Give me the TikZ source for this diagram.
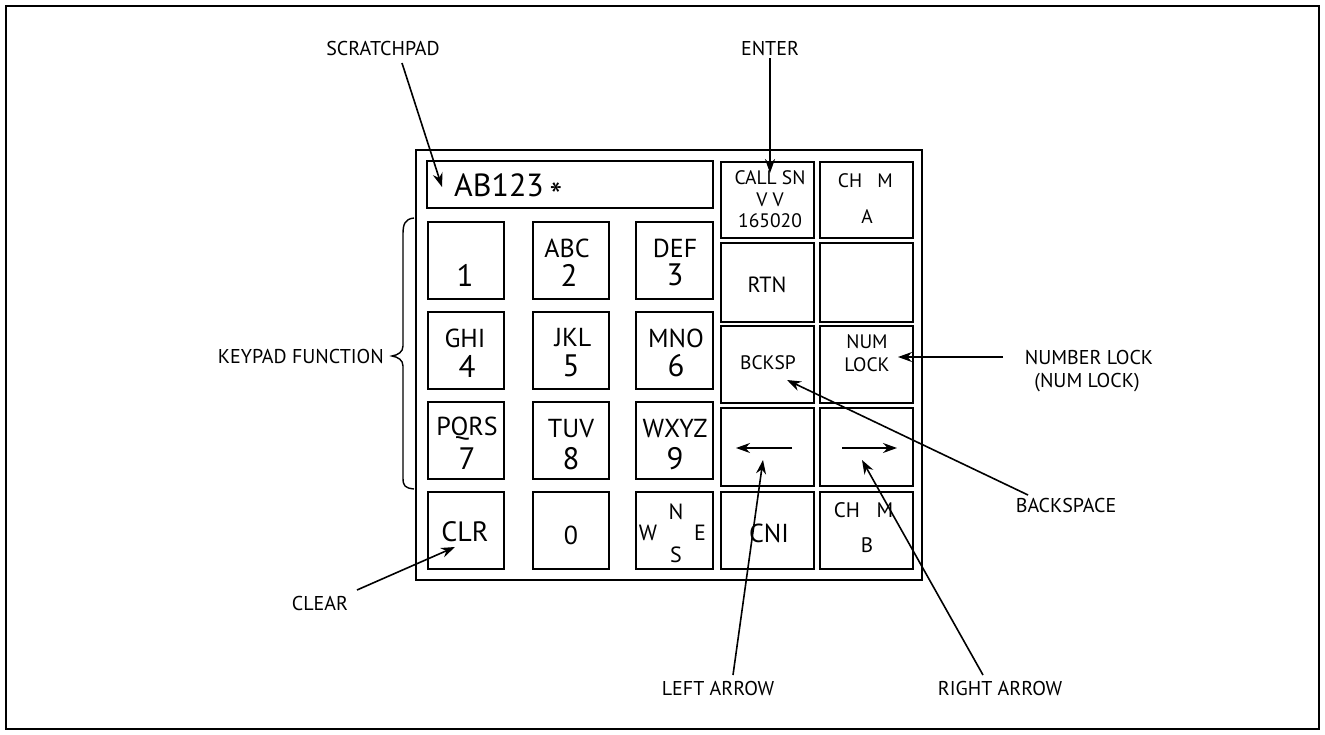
\documentclass[tikz,border=0pt]{standalone}
\usepackage{fontspec}
\setmainfont{PT Sans}
\usetikzlibrary{arrows.meta}
\tikzset{
  keybox/.style={draw, line width=1.6pt, inner sep=0pt},
  lbl/.style={font=\fontsize{20}{22}\selectfont, inner sep=2pt},
  arr/.style={line width=1.6pt, -{Stealth[length=14pt,width=10pt]}},
  ltr/.style={font=\fontsize{26}{28}\selectfont, inner sep=0pt},
  dig/.style={font=\fontsize{31}{32}\selectfont, inner sep=0pt},
  sml/.style={font=\fontsize{19.5}{20}\selectfont, inner sep=0pt},
}
\newcommand{\kbox}[5]{\node[keybox, minimum width=#3pt, minimum height=#4pt] (#5) at (#1,#2) {};}
\begin{document}
\begin{tikzpicture}[x=1pt,y=-1pt]
\useasboundingbox (0,0) rectangle (1325,735);
% outer frame
\draw[line width=1.6pt] (6,6) rectangle (1319,729);
% keypad body
\node[keybox, minimum width=506pt, minimum height=430pt] (body) at (669,365) {};
% scratchpad
\node[keybox, minimum width=286pt, minimum height=47pt] (pad) at (570,184.5) {};
\node[font=\fontsize{32}{34}\selectfont, inner sep=0pt, anchor=west] (padtxt) at (454,185) {AB123};
\node[font=\fontsize{36}{36}\selectfont, inner sep=0pt] (star) at (556,196) {*};
% numeric keys
\kbox{466}{260.5}{76}{77}{k1}
\kbox{571}{260.5}{76}{77}{k2}
\kbox{674.5}{260.5}{77}{77}{k3}
\kbox{466}{350.5}{76}{77}{k4}
\kbox{571}{350.5}{76}{77}{k5}
\kbox{674.5}{350.5}{77}{77}{k6}
\kbox{466}{440.5}{76}{77}{k7}
\kbox{571}{440.5}{76}{77}{k8}
\kbox{674.5}{440.5}{77}{77}{k9}
\kbox{466}{530.5}{76}{77}{kclr}
\kbox{571}{530.5}{76}{77}{k0}
\kbox{674.5}{530.5}{77}{77}{knav}
% right keys
\kbox{767.5}{200}{93}{76}{kcall}
\kbox{866.5}{200}{93}{76}{kcha}
\kbox{767.5}{282.5}{93}{79}{krtn}
\kbox{866.5}{282.5}{93}{79}{kblank}
\kbox{767.5}{364.5}{93}{77}{kbck}
\kbox{866.5}{364.5}{93}{77}{knum}
\kbox{767.5}{447}{93}{78}{kleft}
\kbox{866.5}{447}{93}{78}{kright}
\kbox{767.5}{530.5}{93}{77}{kcni}
\kbox{866.5}{530.5}{93}{77}{kchb}
% numeric key texts
\node[dig] (t1) at (465,275) {1};
\node[ltr] (t2a) at (567,248) {ABC};
\node[dig] (t2b) at (569,275) {2};
\node[ltr] (t3a) at (675,248) {DEF};
\node[dig] (t3b) at (675,275) {3};
\node[ltr] (t4a) at (465,338) {GHI};
\node[dig] (t4b) at (467,366) {4};
\node[ltr] (t5a) at (573,338) {JKL};
\node[dig] (t5b) at (571,366) {5};
\node[ltr] (t6a) at (676,338) {MNO};
\node[dig] (t6b) at (676,366) {6};
\node[ltr] (t7a) at (467,429) {PQRS};
\node[dig] (t7b) at (467,459) {7};
\node[ltr] (t8a) at (571,429) {TUV};
\node[dig] (t8b) at (571,459) {8};
\node[ltr] (t9a) at (675,429) {WXYZ};
\node[dig] (t9b) at (675,459) {9};
\node[font=\fontsize{28}{28}\selectfont, inner sep=0pt] (tclr) at (465,532) {CLR};
\node[ltr] (t0) at (571,535) {0};
\node[font=\fontsize{22}{22}\selectfont, inner sep=0pt] (tn) at (676,512) {N};
\node[font=\fontsize{22}{22}\selectfont, inner sep=0pt] (tw) at (648,533) {W};
\node[font=\fontsize{22}{22}\selectfont, inner sep=0pt] (te) at (700,533) {E};
\node[font=\fontsize{22}{22}\selectfont, inner sep=0pt] (ts) at (676,555) {S};
% right key texts
\node[sml] (tc1) at (770,178) {CALL SN};
\node[sml] (tc2) at (770,200) {V V};
\node[sml] (tc3) at (770,221) {165020};
\node[sml] (tch1) at (850,181) {CH};
\node[sml] (tcm1) at (885,181) {M};
\node[sml] (tca) at (867,217) {A};
\node[font=\fontsize{22}{22}\selectfont, inner sep=0pt] (trtn) at (767,285) {RTN};
\node[sml] (tbck) at (768,363) {BCKSP};
\node[sml] (tnum1) at (867,342) {NUM};
\node[sml] (tnum2) at (867,365) {LOCK};
\node[font=\fontsize{26}{26}\selectfont, inner sep=0pt] (tcni) at (769,533) {CNI};
\node[font=\fontsize{21}{21}\selectfont, inner sep=0pt] (tch2) at (847,510) {CH};
\node[font=\fontsize{21}{21}\selectfont, inner sep=0pt] (tcm2) at (885,510) {M};
\node[font=\fontsize{21}{21}\selectfont, inner sep=0pt] (tcb) at (867,545) {B};
% arrows inside keys
\coordinate (la1) at (792,448);
\coordinate (la2) at (736,448);
\coordinate (ra1) at (842,448);
\coordinate (ra2) at (897,448);
\draw[arr] (la1) -- (la2);
\draw[arr] (ra1) -- (ra2);
% brace
\draw[line width=1.4pt] (414,218) .. controls (405,219) and (403,224) .. (403,234) -- (403,346)
  .. controls (403,352) and (398,355) .. (392,356)
  .. controls (398,357) and (403,360) .. (403,366) -- (403,478)
  .. controls (403,486) and (405,488) .. (414,489);
% callout labels
\node[lbl] (scr) at (383,49) {SCRATCHPAD};
\node[lbl] (ent) at (770,49) {ENTER};
\node[lbl, anchor=east] (kpf) at (386,356) {KEYPAD FUNCTION};
\node[lbl] (clear) at (320,603) {CLEAR};
\node[lbl] (larr) at (718,688) {LEFT ARROW};
\node[lbl] (rarr) at (1000,688) {RIGHT ARROW};
\node[lbl] (bsp) at (1066,505) {BACKSPACE};
\node[lbl] (nl1) at (1089,357) {NUMBER LOCK};
\node[lbl] (nl2) at (1087,383) {(NUM LOCK)};
% callout tips
\coordinate (scrTip) at (442,187);
\coordinate (entTip) at (770,173);
\coordinate (clrTip) at (455,547);
\coordinate (laTip) at (763,460);
\coordinate (raTip) at (862,460);
\coordinate (bsTip) at (787,380);
\coordinate (nlTip) at (898,357);
\coordinate (scrS) at (402,63);
\coordinate (clrS) at (357,590);
\coordinate (laS) at (733,675);
\coordinate (raS) at (983,675);
\coordinate (bsS) at (1028,495);
\coordinate (nlS) at (1003,357);
\draw[arr] (scrS) -- (scrTip);
\draw[arr] (ent.south) -- (entTip);
\draw[arr] (clrS) -- (clrTip);
\draw[arr] (laS) -- (laTip);
\draw[arr] (raS) -- (raTip);
\draw[arr] (bsS) -- (bsTip);
\draw[arr] (nlS) -- (nlTip);
\end{tikzpicture}
\end{document}
